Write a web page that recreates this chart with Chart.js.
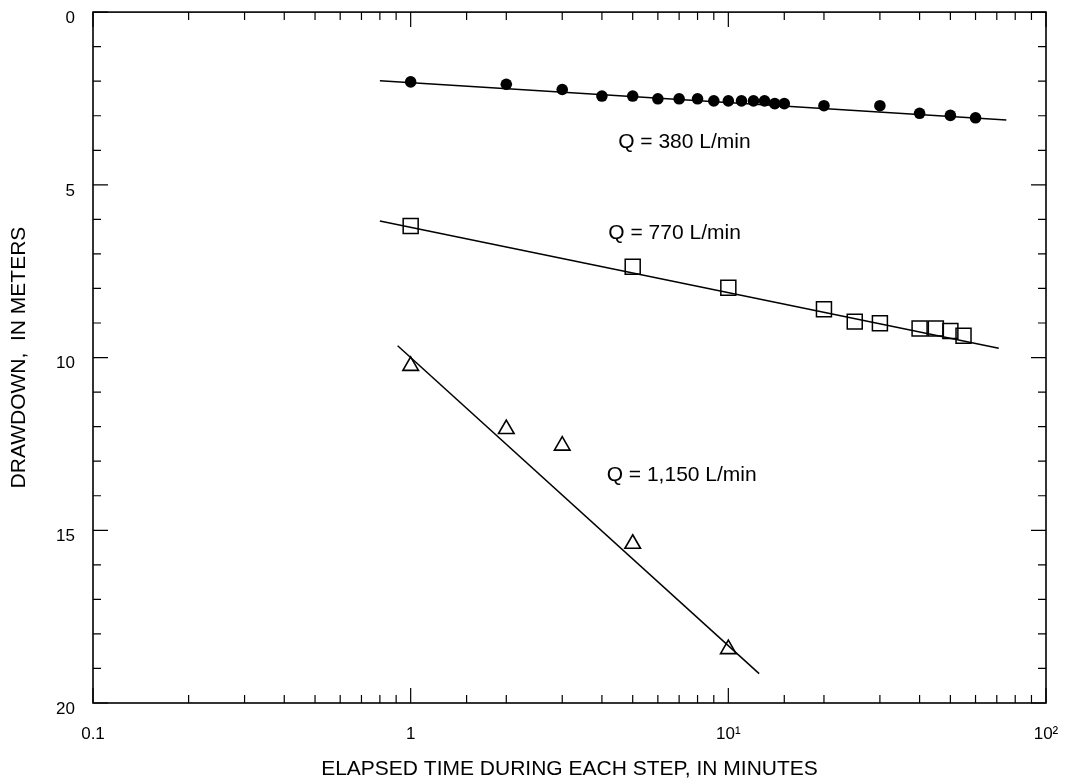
<!DOCTYPE html>
<html>
<head>
<meta charset="utf-8">
<script src="https://cdn.jsdelivr.net/npm/chart.js@4.4.1/dist/chart.umd.min.js"></script>
<style>
  html, body { margin: 0; padding: 0; background: #fff; }
  #wrap { width: 1067px; height: 783px; }
</style>
</head>
<body>
<div id="wrap"><canvas id="drawdownChart" width="1067" height="783"></canvas></div>
<script>
// elapsed time (minutes) and drawdown (meters) for each pumping step
var time380 = [1, 2, 3, 4, 5, 6, 7, 8, 9, 10, 11, 12, 13, 14, 15, 20, 30, 40, 50, 60];
var drawdown380 = [2.02, 2.09, 2.24, 2.43, 2.43, 2.51, 2.51, 2.51, 2.57, 2.57, 2.57, 2.57, 2.57, 2.65, 2.65, 2.71, 2.71, 2.93, 2.99, 3.06];

var time770 = [1, 5, 10, 20, 25, 30, 40, 45, 50, 55];
var drawdown770 = [6.19, 7.37, 7.98, 8.60, 8.96, 9.01, 9.16, 9.16, 9.23, 9.37];

var time1150 = [1, 2, 3, 5, 10];
var drawdown1150 = [10.24, 12.07, 12.55, 15.39, 18.44];

// straight-line fits (end points of each line)
var fitTime380 = [0.8, 75];
var fitDrawdown380 = [1.99, 3.12];
var fitTime770 = [0.8, 71];
var fitDrawdown770 = [6.05, 9.73];
var fitTime1150 = [0.91, 12.5];
var fitDrawdown1150 = [9.66, 19.15];

// discharge labels: text, time, drawdown
var rateLabels = ['Q = 380 L/min', 'Q = 770 L/min', 'Q = 1,150 L/min'];
var rateLabelTime = [4.5, 4.19, 4.14];
var rateLabelDrawdown = [3.76, 6.39, 13.42];

var xTickLabels = { '0.1': '0.1', '1': '1', '10': '10\u00B9', '100': '10\u00B2' };

var FONT = '"Liberation Sans", Arial, sans-serif';

function toPoints(xs, ys) {
    return xs.map(function(x, i) { return { x: x, y: ys[i] }; });
}

// keep the plot box fixed: labels may hang over the edges
function noOverhang(scale) {
    scale.paddingLeft = 0;
    scale.paddingRight = 0;
    scale.paddingTop = 0;
    scale.paddingBottom = 0;
}

document.addEventListener("DOMContentLoaded", function() {
    var ctx = document.getElementById('drawdownChart').getContext('2d');

    // frame plus inward tick marks on all four sides
    var frameTicks = {
        id: 'frameTicks',
        afterDraw: function(chart) {
            var c = chart.ctx;
            var area = chart.chartArea;
            var xs = chart.scales.x;
            var ys = chart.scales.y;
            c.save();
            c.strokeStyle = '#000';
            c.lineWidth = 1.2;
            c.beginPath();
            xs.ticks.forEach(function(t) {
                var px = xs.getPixelForValue(t.value);
                var lg = Math.log10(t.value);
                var len = Math.abs(lg - Math.round(lg)) < 1e-6 ? 15 : 8;
                c.moveTo(px, area.bottom); c.lineTo(px, area.bottom - len);
                c.moveTo(px, area.top); c.lineTo(px, area.top + len);
            });
            ys.ticks.forEach(function(t) {
                var py = ys.getPixelForValue(t.value);
                var len = t.value % 5 === 0 ? 15 : 8;
                c.moveTo(area.left, py); c.lineTo(area.left + len, py);
                c.moveTo(area.right, py); c.lineTo(area.right - len, py);
            });
            c.stroke();
            c.lineWidth = 1.6;
            c.strokeRect(area.left, area.top, area.right - area.left, area.bottom - area.top);

            c.fillStyle = '#000';
            c.font = '21px ' + FONT;
            c.textAlign = 'left';
            c.textBaseline = 'middle';
            rateLabels.forEach(function(txt, i) {
                c.fillText(txt, xs.getPixelForValue(rateLabelTime[i]), ys.getPixelForValue(rateLabelDrawdown[i]));
            });
            c.restore();
        }
    };

    var fitLine = { showLine: true, pointRadius: 0, borderColor: '#000', borderWidth: 1.5, fill: false };

    var myChart = new Chart(ctx, {
        type: 'scatter',
        data: {
            datasets: [
                {
                    label: 'Q = 380 L/min',
                    data: toPoints(time380, drawdown380),
                    pointStyle: 'circle',
                    pointRadius: 5.8,
                    backgroundColor: '#000',
                    borderColor: '#000',
                    borderWidth: 0
                },
                {
                    label: 'Q = 770 L/min',
                    data: toPoints(time770, drawdown770),
                    pointStyle: 'rect',
                    pointRadius: 10.6,
                    backgroundColor: 'rgba(0,0,0,0)',
                    borderColor: '#000',
                    borderWidth: 1.5
                },
                {
                    label: 'Q = 1,150 L/min',
                    data: toPoints(time1150, drawdown1150),
                    pointStyle: 'triangle',
                    pointRadius: 9,
                    backgroundColor: 'rgba(0,0,0,0)',
                    borderColor: '#000',
                    borderWidth: 1.6
                },
                Object.assign({ label: 'fit 380', data: toPoints(fitTime380, fitDrawdown380) }, fitLine),
                Object.assign({ label: 'fit 770', data: toPoints(fitTime770, fitDrawdown770) }, fitLine),
                Object.assign({ label: 'fit 1150', data: toPoints(fitTime1150, fitDrawdown1150) }, fitLine)
            ]
        },
        options: {
            responsive: false,
            animation: false,
            layout: { padding: { top: 11, right: 21, left: 0, bottom: 0 } },
            plugins: {
                legend: { display: false },
                tooltip: { enabled: false }
            },
            scales: {
                x: {
                    type: 'logarithmic',
                    min: 0.1,
                    max: 100,
                    grid: { display: false },
                    border: { display: false },
                    ticks: {
                        autoSkip: false,
                        maxRotation: 0,
                        padding: 13,
                        color: '#000',
                        font: { family: FONT, size: 17 },
                        callback: function(value) {
                            var key = String(Number(value.toPrecision(6)));
                            return xTickLabels[key] || '';
                        }
                    },
                    title: {
                        display: true,
                        text: 'ELAPSED TIME DURING EACH STEP, IN MINUTES',
                        color: '#000',
                        font: { family: FONT, size: 21 },
                        padding: { top: 0, bottom: 1 }
                    },
                    afterFit: function(scale) { scale.height = 80; noOverhang(scale); }
                },
                y: {
                    reverse: true,
                    min: 0,
                    max: 20,
                    grid: { display: false },
                    border: { display: false },
                    ticks: {
                        stepSize: 1,
                        autoSkip: false,
                        padding: 10,
                        labelOffset: 6,
                        color: '#000',
                        font: { family: FONT, size: 17 },
                        callback: function(value) { return value % 5 === 0 ? String(value) : ''; }
                    },
                    title: {
                        display: true,
                        text: 'DRAWDOWN,  IN METERS',
                        color: '#000',
                        font: { family: FONT, size: 21 },
                        padding: { top: 7, bottom: 0 }
                    },
                    afterFit: function(scale) { scale.width = 93; noOverhang(scale); }
                }
            }
        },
        plugins: [frameTicks]
    });
});
</script>
</body>
</html>
